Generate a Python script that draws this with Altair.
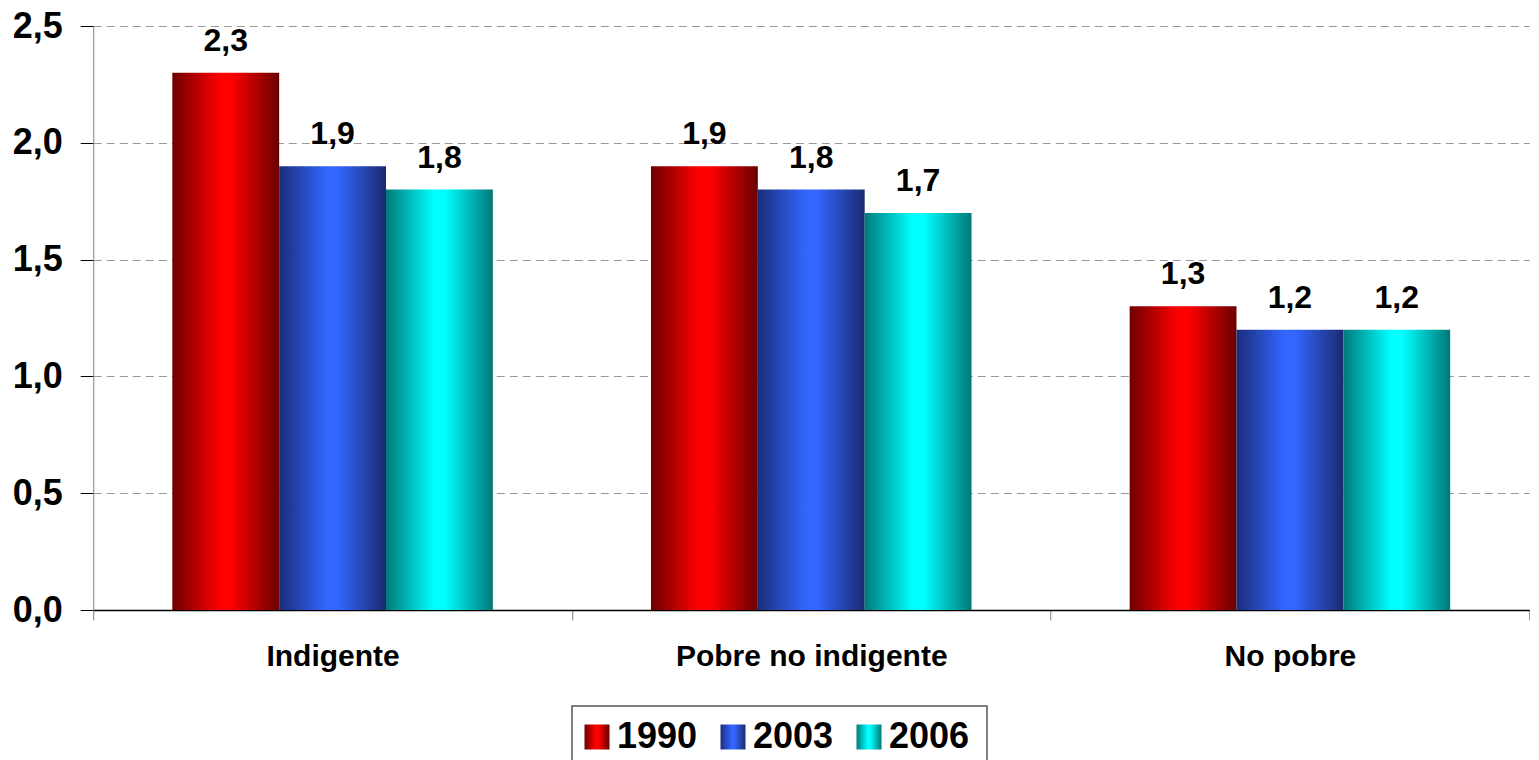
import altair as alt
import pandas as pd

categories = ["Indigente", "Pobre no indigente", "No pobre"]
years = ["1990", "2003", "2006"]
v1990 = [2.3, 1.9, 1.3]
v2003 = [1.9, 1.8, 1.2]
v2006 = [1.8, 1.7, 1.2]
y_ticks = [0, 0.5, 1.0, 1.5, 2.0, 2.5]

FONT = "Liberation Sans"

rows = []
for yr, vals in zip(years, [v1990, v2003, v2006]):
    for c, v in zip(categories, vals):
        rows.append({"cat": c, "year": yr, "value": v})
df = pd.DataFrame(rows)


def grad(dark_l, bright, dark_r):
    return alt.Gradient(
        gradient="linear", x1=0, x2=1, y1=0, y2=0,
        stops=[
            alt.GradientStop(offset=0, color=dark_l),
            alt.GradientStop(offset=0.45, color=bright),
            alt.GradientStop(offset=0.55, color=bright),
            alt.GradientStop(offset=1, color=dark_r),
        ],
    )


fills = {
    "1990": grad("#6e0000", "#ff0000", "#6a0000"),
    "2003": grad("#1a2d7a", "#3366ff", "#1a2a70"),
    "2006": grad("#007a7a", "#00ffff", "#007878"),
}

label_expr = "replace(format(datum.value, '.1f'), '.', ',')"

x_enc = alt.X(
    "cat:N", sort=categories,
    scale=alt.Scale(paddingInner=0, paddingOuter=0),
    axis=alt.Axis(
        title=None, labelAngle=0, labelFont=FONT, labelFontSize=30,
        labelFontWeight="bold", labelColor="black", domainColor="black",
        domainWidth=1.5, tickColor="#808080", tickSize=10, tickBand="extent",
        labelPadding=21, grid=False, labelLimit=0,
    ),
)
y_enc = alt.Y(
    "value:Q",
    scale=alt.Scale(domain=[0, 2.5], nice=False),
    axis=alt.Axis(
        title=None, values=y_ticks, labelExpr=label_expr, grid=True,
        gridDash=[8, 5], gridColor="#999999", domainColor="#808080",
        tickColor="black", tickSize=13, labelPadding=18, labelFont=FONT,
        labelFontSize=36, labelFontWeight="bold", labelColor="black",
    ),
)
xo_enc = alt.XOffset("year:N", scale=alt.Scale(domain=years, paddingInner=0, paddingOuter=0.74))

base = alt.Chart(df)
bar_layers = [
    base.transform_filter(alt.datum.year == yr)
    .mark_bar(fill=fills[yr], strokeWidth=0)
    .encode(x=x_enc, y=y_enc, xOffset=xo_enc)
    for yr in years
]
text_layer = (
    base.transform_calculate(label="replace(format(datum.value, '.1f'), '.', ',')")
    .mark_text(dy=-22, baseline="alphabetic", font=FONT, fontSize=32,
               fontWeight="bold", color="black")
    .encode(x=x_enc, y=y_enc, xOffset=xo_enc, text="label:N")
)
main = alt.layer(*bar_layers, text_layer).properties(width=1436, height=584)

# Legend (drawn as a small chart below the plot)
leg_df = pd.DataFrame({"year": years})
leg_x = alt.X("year:N", scale=alt.Scale(type="point", domain=years, range=[25, 297], padding=0), axis=None)
leg_frame = alt.Chart(pd.DataFrame({"f": [0]})).mark_rect(
    fill="white", stroke="#555555", strokeWidth=1.5
).encode(x=alt.value(0), x2=alt.value(415), y=alt.value(0), y2=alt.value(62))
leg_layers = [
    alt.Chart(leg_df).transform_filter(alt.datum.year == yr)
    .mark_square(size=625, fill=fills[yr], opacity=1, strokeWidth=0)
    .encode(x=leg_x)
    for yr in years
]
leg_text = (
    alt.Chart(leg_df)
    .mark_text(align="left", dx=20, font=FONT, fontSize=36, fontWeight="bold", color="black")
    .encode(x=leg_x, text="year:N")
)
legend = alt.layer(leg_frame, *leg_layers, leg_text).properties(width=479, height=62)

chart = (
    alt.vconcat(main, legend, spacing=34, center=True)
    .properties(padding={"left": 4, "top": 0, "right": 0, "bottom": 0})
    .configure_view(strokeWidth=0)
)

chart.save("out.html", embed_options={"renderer": "svg", "actions": False})
